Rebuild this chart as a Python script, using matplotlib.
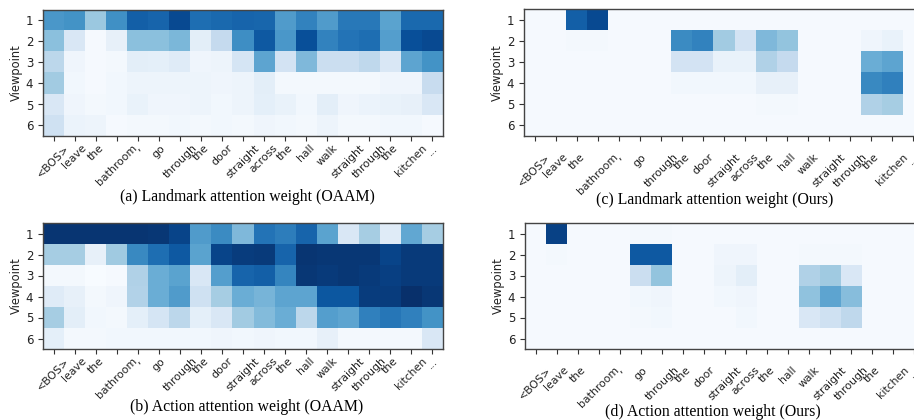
import numpy as np
import matplotlib
matplotlib.use('Agg')
import matplotlib.pyplot as plt

tokens = ['<BOS>', 'leave', 'the', 'bathroom', ',', 'go', 'through', 'the', 'door',
          'straight', 'across', 'the', 'hall', 'walk', 'straight', 'through', 'the',
          'kitchen', '...']
viewpoints = ['1', '2', '3', '4', '5', '6']

# (a) landmark attention, OAAM
land_oaam = [
    [0.60, 0.62, 0.38, 0.63, 0.82, 0.80, 0.90, 0.76, 0.78, 0.80, 0.79, 0.58, 0.68, 0.58, 0.72, 0.72, 0.55, 0.78, 0.78],
    [0.42, 0.15, 0.01, 0.08, 0.42, 0.42, 0.46, 0.10, 0.25, 0.64, 0.84, 0.60, 0.88, 0.68, 0.74, 0.76, 0.57, 0.88, 0.90],
    [0.28, 0.04, 0.01, 0.02, 0.10, 0.09, 0.12, 0.04, 0.05, 0.17, 0.54, 0.18, 0.45, 0.22, 0.22, 0.27, 0.15, 0.54, 0.62],
    [0.36, 0.03, 0.01, 0.03, 0.05, 0.05, 0.05, 0.05, 0.04, 0.05, 0.10, 0.02, 0.02, 0.02, 0.02, 0.02, 0.04, 0.04, 0.24],
    [0.15, 0.04, 0.02, 0.03, 0.07, 0.04, 0.04, 0.05, 0.03, 0.05, 0.09, 0.07, 0.03, 0.10, 0.04, 0.06, 0.07, 0.08, 0.15],
    [0.20, 0.06, 0.05, 0.01, 0.02, 0.02, 0.03, 0.02, 0.03, 0.02, 0.04, 0.03, 0.02, 0.05, 0.02, 0.02, 0.03, 0.03, 0.01],
]

# (b) action attention, OAAM
act_oaam = [
    [0.98, 0.98, 0.98, 0.98, 0.98, 0.97, 0.92, 0.58, 0.65, 0.45, 0.74, 0.70, 0.80, 0.55, 0.15, 0.35, 0.12, 0.53, 0.35],
    [0.35, 0.35, 0.08, 0.37, 0.66, 0.76, 0.84, 0.55, 0.92, 0.95, 0.96, 0.80, 0.98, 0.97, 0.97, 0.97, 0.92, 0.96, 0.96],
    [0.02, 0.02, 0.00, 0.01, 0.32, 0.50, 0.55, 0.15, 0.57, 0.80, 0.82, 0.67, 0.97, 0.96, 0.97, 0.96, 0.94, 0.96, 0.96],
    [0.12, 0.08, 0.02, 0.04, 0.31, 0.50, 0.58, 0.20, 0.35, 0.50, 0.47, 0.54, 0.54, 0.85, 0.85, 0.95, 0.95, 1.00, 0.97],
    [0.35, 0.10, 0.03, 0.02, 0.09, 0.17, 0.28, 0.09, 0.15, 0.36, 0.44, 0.50, 0.28, 0.57, 0.54, 0.69, 0.73, 0.69, 0.62],
    [0.09, 0.02, 0.02, 0.03, 0.03, 0.03, 0.03, 0.03, 0.04, 0.03, 0.04, 0.03, 0.03, 0.08, 0.02, 0.02, 0.02, 0.02, 0.15],
]

# (c) landmark attention, ours
land_ours = [
    [0.01, 0.01, 0.82, 0.90, 0.01, 0.01, 0.01, 0.01, 0.01, 0.01, 0.01, 0.01, 0.01, 0.01, 0.01, 0.01, 0.01, 0.01, 0.01],
    [0.01, 0.01, 0.02, 0.02, 0.01, 0.01, 0.01, 0.65, 0.68, 0.36, 0.18, 0.45, 0.40, 0.01, 0.01, 0.01, 0.04, 0.07, 0.01],
    [0.01, 0.01, 0.01, 0.01, 0.01, 0.01, 0.01, 0.18, 0.18, 0.07, 0.07, 0.32, 0.25, 0.01, 0.01, 0.01, 0.50, 0.54, 0.01],
    [0.01, 0.01, 0.01, 0.01, 0.01, 0.01, 0.01, 0.03, 0.03, 0.03, 0.03, 0.08, 0.08, 0.01, 0.01, 0.01, 0.66, 0.69, 0.01],
    [0.01, 0.01, 0.01, 0.01, 0.01, 0.01, 0.01, 0.01, 0.01, 0.01, 0.01, 0.02, 0.02, 0.01, 0.01, 0.01, 0.32, 0.35, 0.01],
    [0.01, 0.01, 0.01, 0.01, 0.01, 0.01, 0.01, 0.01, 0.01, 0.01, 0.01, 0.01, 0.01, 0.01, 0.01, 0.01, 0.01, 0.01, 0.01],
]

# (d) action attention, ours
act_ours = [
    [0.01, 0.93, 0.01, 0.01, 0.01, 0.02, 0.02, 0.01, 0.01, 0.01, 0.01, 0.01, 0.01, 0.01, 0.01, 0.01, 0.01, 0.01, 0.01],
    [0.01, 0.02, 0.01, 0.01, 0.01, 0.84, 0.84, 0.01, 0.01, 0.04, 0.04, 0.01, 0.01, 0.02, 0.02, 0.02, 0.01, 0.01, 0.01],
    [0.01, 0.01, 0.01, 0.01, 0.01, 0.22, 0.40, 0.01, 0.01, 0.05, 0.10, 0.01, 0.01, 0.32, 0.37, 0.15, 0.01, 0.01, 0.01],
    [0.01, 0.01, 0.01, 0.01, 0.01, 0.03, 0.04, 0.01, 0.01, 0.03, 0.04, 0.01, 0.01, 0.41, 0.54, 0.43, 0.01, 0.01, 0.01],
    [0.01, 0.01, 0.01, 0.01, 0.01, 0.02, 0.03, 0.01, 0.01, 0.01, 0.03, 0.01, 0.01, 0.15, 0.20, 0.27, 0.01, 0.01, 0.01],
    [0.01, 0.01, 0.01, 0.01, 0.01, 0.01, 0.01, 0.01, 0.01, 0.01, 0.01, 0.01, 0.01, 0.01, 0.01, 0.01, 0.01, 0.01, 0.01],
]

captions = ['(a) Landmark attention weight (OAAM)',
            '(b) Action attention weight (OAAM)',
            '(c) Landmark attention weight (Ours)',
            '(d) Action attention weight (Ours)']

W, H = 914, 420
fig = plt.figure(figsize=(W / 100, H / 100), dpi=100)

# left, top, bottom in pixels; caption centre x, caption y; x label pad
panels = [
    (land_oaam, 43, 10, 136, 247, 197, 1.5),
    (act_oaam, 43, 223, 349, 247, 407, 1.5),
    (land_ours, 524, 9.5, 136, 715, 200, 8),
    (act_ours, 525, 223, 349, 713, 412, 8),
]

for (data, left, top, bottom, cx, cy, pad), cap in zip(panels, captions):
    ax = fig.add_axes([left / W, 1 - bottom / H, 400 / W, (bottom - top) / H])
    ax.imshow(np.array(data), cmap='Blues', vmin=0, vmax=1, aspect='auto',
              interpolation='nearest')
    ax.set_xticks(range(len(tokens)))
    ax.set_xticklabels(tokens, rotation=45, ha='center', fontsize=7.8, color='#222222')
    ax.set_yticks(range(len(viewpoints)))
    ax.set_yticklabels(viewpoints, fontsize=8.5, color='#222222')
    ax.tick_params(axis='x', pad=pad, length=3.5, width=0.8, color='#333333')
    ax.tick_params(axis='y', length=3.5, width=0.8, color='#333333')
    ax.set_ylabel('Viewpoint', fontsize=8.3, color='#222222', labelpad=2)
    for s in ax.spines.values():
        s.set_color('#444444')
        s.set_linewidth(1.0)
    fig.text(cx / W, 1 - cy / H, cap, ha='center', va='center',
             family='Liberation Serif', fontsize=11.3)

fig.savefig('out.png', dpi=100)
